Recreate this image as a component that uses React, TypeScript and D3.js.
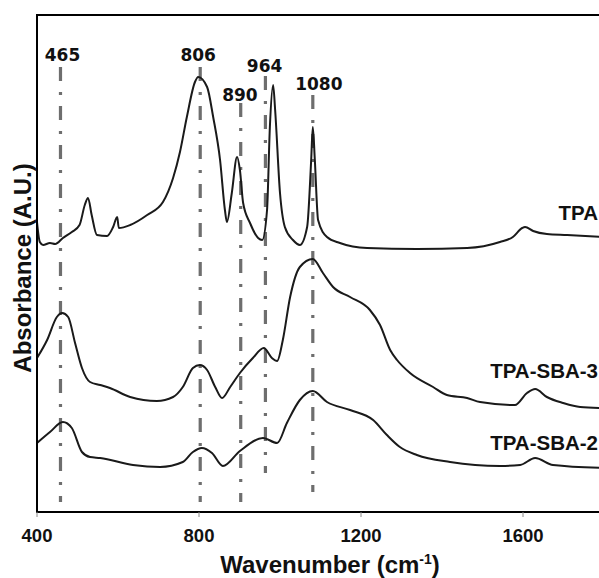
import React from "react";
import * as d3 from "d3";

// Wavenumber (cm-1) and absorbance (arbitrary units, offset spectra)
const tpaWn = [400, 407, 415, 432, 445, 464, 486, 505, 518, 526, 535, 548, 573, 588, 598, 602, 630, 672, 711, 736, 753, 770, 790, 798, 820, 835, 852, 864, 869, 881, 894, 901, 909, 926, 946, 956, 968, 975, 983, 988, 1000, 1012, 1032, 1049, 1067, 1077, 1081, 1086, 1094, 1116, 1148, 1215, 1338, 1462, 1543, 1575, 1598, 1605, 1625, 1659, 1709, 1800];
const tpaAbs = [2.90, 2.70, 2.67, 2.69, 2.68, 2.74, 2.80, 2.87, 3.07, 3.14, 2.97, 2.77, 2.76, 2.85, 2.95, 2.84, 2.87, 2.97, 3.10, 3.34, 3.60, 3.95, 4.30, 4.35, 4.25, 3.95, 3.52, 3.02, 2.90, 3.19, 3.55, 3.42, 3.09, 2.89, 2.74, 2.72, 3.02, 3.85, 4.27, 4.02, 3.19, 2.85, 2.72, 2.67, 2.85, 3.52, 3.85, 3.52, 2.92, 2.75, 2.69, 2.64, 2.63, 2.64, 2.70, 2.75, 2.84, 2.85, 2.81, 2.78, 2.77, 2.75];

const sba3Wn = [400, 425, 449, 462, 477, 494, 511, 531, 556, 580, 630, 696, 736, 760, 785, 802, 820, 840, 857, 877, 901, 933, 960, 980, 993, 1007, 1025, 1049, 1081, 1106, 1131, 1173, 1222, 1247, 1272, 1289, 1321, 1378, 1412, 1462, 1494, 1580, 1610, 1630, 1659, 1699, 1741, 1800];
const sba3Abs = [1.54, 1.72, 1.95, 1.99, 1.95, 1.69, 1.44, 1.30, 1.27, 1.24, 1.15, 1.11, 1.15, 1.25, 1.44, 1.47, 1.42, 1.25, 1.14, 1.25, 1.39, 1.54, 1.64, 1.54, 1.51, 1.72, 2.15, 2.45, 2.53, 2.39, 2.25, 2.15, 2.02, 1.87, 1.62, 1.52, 1.39, 1.25, 1.17, 1.14, 1.10, 1.07, 1.19, 1.23, 1.15, 1.09, 1.05, 1.04];

const sba2Wn = [400, 432, 464, 486, 511, 531, 556, 637, 704, 760, 785, 807, 832, 859, 901, 958, 993, 1017, 1049, 1081, 1116, 1173, 1230, 1264, 1296, 1338, 1420, 1543, 1593, 1630, 1674, 1800];
const sba2Abs = [0.69, 0.80, 0.90, 0.84, 0.60, 0.55, 0.54, 0.47, 0.45, 0.50, 0.60, 0.64, 0.59, 0.46, 0.61, 0.74, 0.69, 0.89, 1.12, 1.21, 1.10, 1.02, 0.92, 0.77, 0.65, 0.57, 0.50, 0.46, 0.47, 0.54, 0.47, 0.44];

const seriesNames = ["TPA", "TPA-SBA-3", "TPA-SBA-2"];
const seriesLabelAbs = [2.92, 1.34, 0.62];

// Peak markers
const peakLabels = ["465", "806", "890", "964", "1080"];
const peakLineWn = [458, 803, 903, 964, 1081];
const peakLabelWn = [463, 798, 901, 962, 1096];
const peakLabelAbs = [4.51, 4.51, 4.11, 4.40, 4.22];
const peakLineTop = [4.45, 4.45, 4.09, 4.36, 4.17];
const peakLineBottom = [0.10, 0.10, 0.10, 0.39, 0.20];

const xTicks = [400, 800, 1200, 1600];

export default function App() {
  const W = 599, H = 578;
  const x = d3.scaleLinear().domain([400, 1800]).range([37, 604]);
  const y = d3.scaleLinear().domain([0, 4.97]).range([512, 15]);

  const line = d3
    .line<[number, number]>()
    .x((d) => x(d[0]))
    .y((d) => y(d[1]))
    .curve(d3.curveMonotoneX);

  const series = [
    tpaWn.map((w, i) => [w, tpaAbs[i]] as [number, number]),
    sba3Wn.map((w, i) => [w, sba3Abs[i]] as [number, number]),
    sba2Wn.map((w, i) => [w, sba2Abs[i]] as [number, number]),
  ];

  const sans = "'Liberation Sans', Arial, sans-serif";
  const peakFont = "'DejaVu Sans', sans-serif";

  return (
    <svg
      width={W}
      height={H}
      style={{ position: "absolute", left: 0, top: 0, background: "#fff" }}
    >
      <rect x={0} y={0} width={W} height={H} fill="#fff" />
      {/* peak marker lines */}
      {peakLineWn.map((w, i) => (
        <line
          key={"pl" + i}
          x1={x(w)}
          x2={x(w)}
          y1={y(peakLineTop[i])}
          y2={y(peakLineBottom[i])}
          stroke="#6e6e6e"
          strokeWidth={3.2}
          strokeDasharray="14,11,3,11"
        />
      ))}
      {/* spectra */}
      {series.map((s, i) => (
        <path
          key={"s" + i}
          d={line(s) || ""}
          fill="none"
          stroke="#1a1a1a"
          strokeWidth={2}
        />
      ))}
      {/* frame */}
      <line x1={37} x2={37} y1={15} y2={512} stroke="#000" strokeWidth={2} />
      <line x1={36} x2={W} y1={15} y2={15} stroke="#000" strokeWidth={2} />
      <line x1={36} x2={W} y1={512} y2={512} stroke="#000" strokeWidth={2} />
      {xTicks.map((t) => (
        <g key={"t" + t}>
          <line x1={x(t)} x2={x(t)} y1={512} y2={517} stroke="#888" strokeWidth={1} />
          <text
            x={x(t)}
            y={542}
            textAnchor="middle"
            fontFamily={sans}
            fontWeight="bold"
            fontSize={18.5}
            fill="#111"
          >
            {t}
          </text>
        </g>
      ))}
      {/* peak labels */}
      {peakLabels.map((p, i) => (
        <text
          key={"pk" + i}
          x={x(peakLabelWn[i])}
          y={y(peakLabelAbs[i])}
          textAnchor="middle"
          fontFamily={peakFont}
          fontWeight="bold"
          fontSize={17}
          fill="#111"
        >
          {p}
        </text>
      ))}
      {/* series labels */}
      {seriesNames.map((n, i) => (
        <text
          key={"n" + i}
          x={598}
          y={y(seriesLabelAbs[i])}
          textAnchor="end"
          fontFamily={sans}
          fontWeight="bold"
          fontSize={20.5}
          fill="#111"
        >
          {n}
        </text>
      ))}
      {/* axis titles */}
      <text
        x={330}
        y={573}
        textAnchor="middle"
        fontFamily={sans}
        fontWeight="bold"
        fontSize={24}
        fill="#111"
      >
        Wavenumber (cm
        <tspan fontSize={14} dy={-9}>-1</tspan>
        <tspan dy={9}>)</tspan>
      </text>
      <text
        transform="translate(31,268) rotate(-90)"
        textAnchor="middle"
        fontFamily={sans}
        fontWeight="bold"
        fontSize={24}
        fill="#111"
      >
        Absorbance (A.U.)
      </text>
    </svg>
  );
}
